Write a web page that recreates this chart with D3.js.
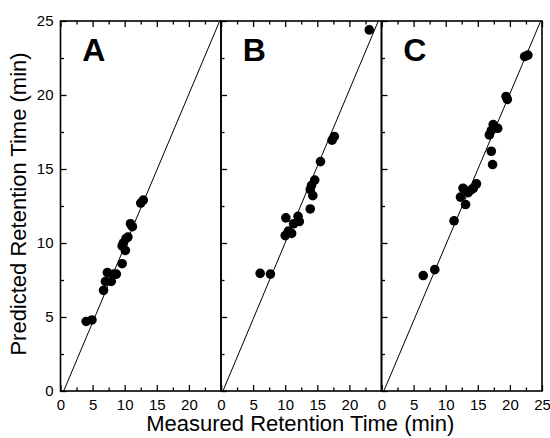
<!DOCTYPE html>
<html>
<head>
<meta charset="utf-8">
<script src="https://cdn.jsdelivr.net/npm/d3@7/dist/d3.min.js"></script>
<style>
  html, body { margin: 0; padding: 0; background: #fff; }
  svg { display: block; font-family: "Liberation Sans", Arial, Helvetica, sans-serif; }
</style>
</head>
<body>
<svg id="chart" width="550" height="438"></svg>
<script>
// ---- data ----
const panelLabels = ["A", "B", "C"];

const measuredA  = [4.0, 4.9, 6.7, 7.0, 7.3, 7.9, 8.3, 8.7, 9.6, 9.6, 9.8, 10.1, 10.2, 10.5, 10.9, 11.2, 12.5, 12.9];
const predictedA = [4.7, 4.8, 6.8, 7.4, 8.0, 7.4, 7.9, 7.9, 8.6, 9.8, 10.0, 9.5, 10.3, 10.4, 11.3, 11.1, 12.7, 12.9];

const measuredB  = [6.1, 7.7, 10.0, 10.5, 11.0, 10.1, 11.3, 12.0, 12.2, 13.9, 14.3, 13.9, 14.1, 14.6, 15.5, 17.3, 17.65, 23.1];
const predictedB = [7.95, 7.9, 10.5, 10.8, 10.65, 11.7, 11.3, 11.8, 11.45, 12.3, 13.2, 13.6, 13.9, 14.25, 15.5, 16.95, 17.2, 24.4];

const measuredC  = [6.5, 8.3, 11.3, 12.3, 12.7, 13.1, 13.5, 14.0, 14.3, 14.8, 17.3, 17.1, 16.8, 17.1, 17.4, 18.1, 19.4, 19.6, 22.3, 22.8];
const predictedC = [7.8, 8.2, 11.5, 13.1, 13.7, 12.6, 13.4, 13.6, 13.7, 14.0, 15.3, 16.2, 17.3, 17.6, 18.0, 17.75, 19.9, 19.7, 22.6, 22.7];

// fitted lines: predicted = slope * measured + intercept
const fitSlopes     = [1.029, 1.033, 1.023];
const fitIntercepts = [-0.51, -0.31, -0.37];

const xTickValues = [0, 5, 10, 15, 20, 25];
const yTickValues = [0, 5, 10, 15, 20, 25];
const minorTickValues = [2.5, 7.5, 12.5, 17.5, 22.5];

const xTitle = "Measured Retention Time (min)";
const yTitle = "Predicted Retention Time (min)";

// ---- layout ----
const svg = d3.select("#chart");
const plotLeft = 60.5, plotTop = 21, panelW = 160.5, plotH = 370;
const domain = [0, 25];

const y = d3.scaleLinear().domain(domain).range([plotTop + plotH, plotTop]);

const panels = [
  { label: panelLabels[0], mx: measuredA, py: predictedA },
  { label: panelLabels[1], mx: measuredB, py: predictedB },
  { label: panelLabels[2], mx: measuredC, py: predictedC }
];

const fontFam = "Liberation Sans, Arial, sans-serif";

panels.forEach((p, i) => {
  const x0 = plotLeft + i * panelW;
  const x = d3.scaleLinear().domain(domain).range([x0, x0 + panelW]);
  const g = svg.append("g");

  const clipId = "clip" + i;
  svg.append("clipPath").attr("id", clipId)
    .append("rect").attr("x", x0).attr("y", plotTop).attr("width", panelW).attr("height", plotH);

  // fit line
  const xAtY = yy => (yy - fitIntercepts[i]) / fitSlopes[i];
  const pts = [[xAtY(0), 0], [xAtY(25.5), 25.5]];
  g.append("path")
    .attr("clip-path", `url(#${clipId})`)
    .attr("d", d3.line().x(d => x(d[0])).y(d => y(d[1]))(pts))
    .attr("fill", "none").attr("stroke", "#000").attr("stroke-width", 1);

  // points
  g.append("g").selectAll("circle")
    .data(p.mx.map((v, k) => [v, p.py[k]]))
    .join("circle")
    .attr("cx", d => x(d[0])).attr("cy", d => y(d[1]))
    .attr("r", 4.8).attr("fill", "#000");

  // bottom axis (inward ticks)
  const bottomLabels = i === 2 ? xTickValues : xTickValues.slice(0, 5);
  const gb = g.append("g").attr("transform", `translate(0,${plotTop + plotH})`);
  gb.call(d3.axisBottom(x).tickValues(xTickValues).tickSize(-6)
    .tickFormat(d => bottomLabels.includes(d) ? d : ""));
  gb.append("g").call(d3.axisBottom(x).tickValues(minorTickValues).tickSize(-3.5).tickFormat(""));
  gb.selectAll(".domain").remove();
  gb.selectAll("line").attr("stroke", "#000").attr("stroke-width", 1.3);
  gb.selectAll("text").attr("font-size", 15).attr("fill", "#000").attr("y", 8).attr("dy", "0.71em")
    .attr("font-family", fontFam);

  // top axis (inward ticks)
  const gt = g.append("g").attr("transform", `translate(0,${plotTop})`);
  gt.call(d3.axisTop(x).tickValues(xTickValues).tickSize(-6).tickFormat(""));
  gt.append("g").call(d3.axisTop(x).tickValues(minorTickValues).tickSize(-3.5).tickFormat(""));
  gt.selectAll(".domain").remove();
  gt.selectAll("line").attr("stroke", "#000").attr("stroke-width", 1.3);

  // left axis (inward ticks) for each panel
  const gl = g.append("g").attr("transform", `translate(${x0},0)`);
  gl.call(d3.axisLeft(y).tickValues(yTickValues).tickSize(-6).tickFormat(d => i === 0 ? d : ""));
  gl.append("g").call(d3.axisLeft(y).tickValues(minorTickValues).tickSize(-3.5).tickFormat(""));
  gl.selectAll(".domain").remove();
  gl.selectAll("line").attr("stroke", "#000").attr("stroke-width", 1.3);
  gl.selectAll("text").attr("font-size", 15).attr("fill", "#000").attr("x", -7)
    .attr("font-family", fontFam);

  // frame
  g.append("rect").attr("x", x0).attr("y", plotTop).attr("width", panelW).attr("height", plotH)
    .attr("fill", "none").attr("stroke", "#000").attr("stroke-width", 1.6);

  // panel letter
  g.append("text").attr("x", x(3.4)).attr("y", y(22.3))
    .attr("font-size", 32).attr("font-weight", "bold").attr("fill", "#000")
    .attr("font-family", fontFam)
    .text(p.label);
});

// axis titles
svg.append("text")
  .attr("x", plotLeft + 1.5 * panelW - 1).attr("y", 431)
  .attr("text-anchor", "middle").attr("font-size", 22).attr("fill", "#000")
  .attr("font-family", fontFam)
  .text(xTitle);

svg.append("text")
  .attr("transform", `translate(26,${plotTop + plotH / 2 - 2}) rotate(-90)`)
  .attr("text-anchor", "middle").attr("font-size", 22).attr("fill", "#000")
  .attr("font-family", fontFam)
  .text(yTitle);
</script>
</body>
</html>
